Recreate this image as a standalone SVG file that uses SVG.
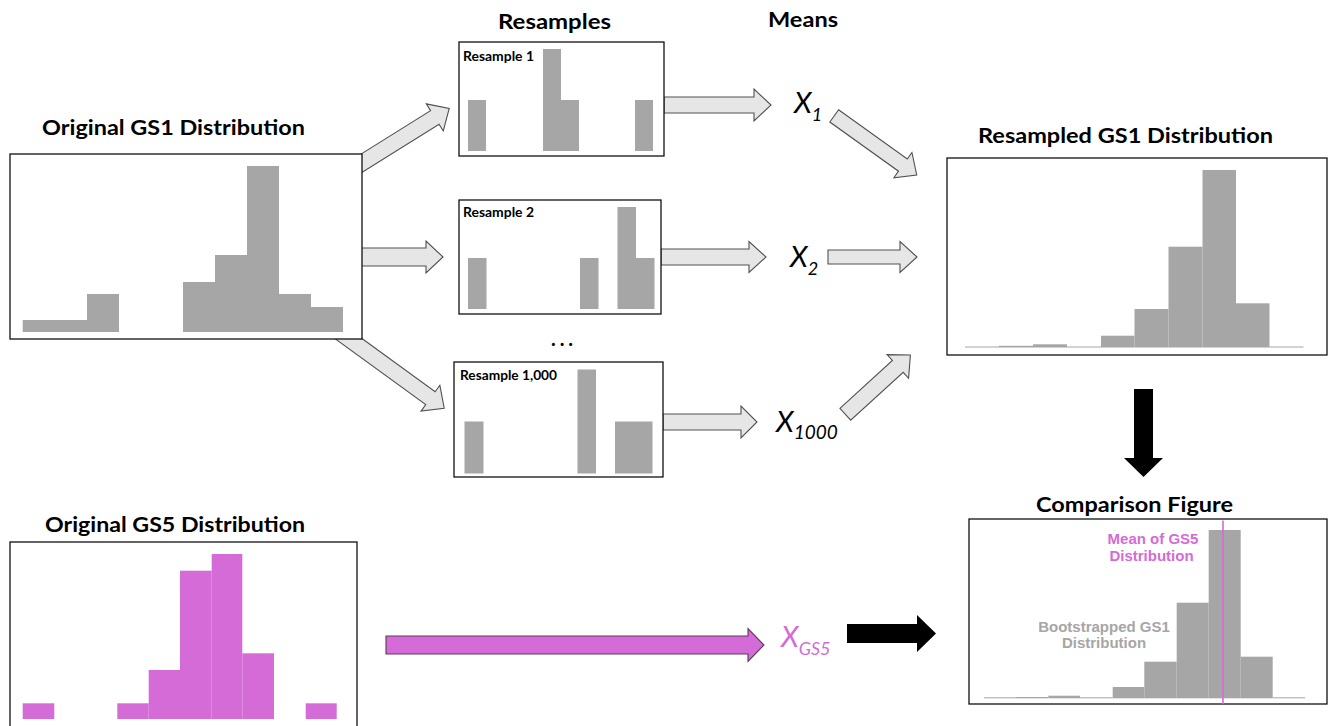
<svg xmlns="http://www.w3.org/2000/svg" width="1336" height="726" viewBox="0 0 1336 726">
<style>
.bg{fill:#ffffff}
.box{fill:#ffffff;stroke:#111;stroke-width:1.3}
.bar{fill:#a6a6a6}
.pbar{fill:#d46bd6}
.garrow{fill:#e6e6e6;stroke:#505050;stroke-width:1.1;stroke-linejoin:miter}
.parrow{fill:#d46bd6;stroke:#5a3a5a;stroke-width:1.1}
.barrow{fill:#000}
.title{font-family:Lato,"Liberation Sans",sans-serif;font-weight:bold;font-size:20px;fill:#000}
.rlabel{font-family:Lato,"Liberation Sans",sans-serif;font-weight:bold;font-size:12.5px;fill:#000}
.xl{font-family:Lato,"Open Sans",sans-serif;font-style:italic;fill:#000}
.ann{font-family:"Liberation Sans",Arial,sans-serif;font-weight:bold;font-size:15px}
</style>
<rect class="bg" x="0" y="0" width="1336" height="726"/>

<g id="connectors">
  <polygon class="garrow" transform="translate(350,170.4) rotate(-32)" points="0,-8 100,-8 100,-16 117,0 100,16 100,8 0,8"/>
  <polygon class="garrow" points="350,248 426,248 426,241 443,257 426,273 426,266 350,266"/>
  <polygon class="garrow" transform="translate(336.6,330) rotate(36)" points="0,-8 116,-8 116,-16 133,0 116,16 116,8 0,8"/>
  <polygon class="garrow" points="664,97 754,97 754,89 771,105 754,121 754,113 664,113"/>
  <polygon class="garrow" points="661,249 749,249 749,241.5 766,257 749,272.5 749,265 661,265"/>
  <polygon class="garrow" points="663,414 741,414 741,406 757,422 741,438 741,430 663,430"/>
  <polygon class="garrow" transform="translate(834.2,115.9) rotate(35.6)" points="0,-7.5 84.5,-7.5 84.5,-15.5 101.5,0 84.5,15.5 84.5,7.5 0,7.5"/>
  <polygon class="garrow" points="828,250 900,250 900,241.5 917,257 900,272.5 900,264 828,264"/>
  <polygon class="garrow" transform="translate(845.3,414.2) rotate(-42.3)" points="0,-8 71,-8 71,-16 88,0 71,16 71,8 0,8"/>
  <polygon class="parrow" points="386,636 748,636 748,628.5 764,645 748,661.5 748,654 386,654"/>
  <polygon class="barrow" points="847,624 917,624 917,615 936,633.5 917,652 917,643 847,643"/>
  <polygon class="barrow" points="1134,389 1153,389 1153,458 1163,458 1143.5,477 1124,458 1134,458"/>
</g>

<g id="original-gs1">
  <text class="title" x="42" y="135" textLength="263" lengthAdjust="spacingAndGlyphs">Original GS1 Distribution</text>
  <rect class="box" x="10" y="154" width="352" height="185"/>
  <rect class="bar" x="22.7" y="320" width="64.6" height="12"/>
  <rect class="bar" x="87" y="294" width="32" height="38"/>
  <rect class="bar" x="183" y="282" width="32" height="50"/>
  <rect class="bar" x="215" y="255" width="32" height="77"/>
  <rect class="bar" x="247" y="166" width="32" height="166"/>
  <rect class="bar" x="279" y="294" width="32" height="38"/>
  <rect class="bar" x="311" y="307" width="32" height="25"/>
</g>

<g id="resamples-title">
  <text class="title" x="498" y="29" textLength="113" lengthAdjust="spacingAndGlyphs">Resamples</text>
</g>

<g id="resample-1">
  <rect class="box" x="459" y="42" width="205" height="114"/>
  <text class="rlabel" x="463" y="61" textLength="71" lengthAdjust="spacingAndGlyphs">Resample 1</text>
  <rect class="bar" x="468" y="100" width="18" height="51"/>
  <rect class="bar" x="543" y="49" width="18" height="102"/>
  <rect class="bar" x="561" y="100" width="18" height="51"/>
  <rect class="bar" x="635" y="100" width="18" height="51"/>
</g>

<g id="resample-2">
  <rect class="box" x="459" y="200" width="202" height="114"/>
  <text class="rlabel" x="463" y="217" textLength="71" lengthAdjust="spacingAndGlyphs">Resample 2</text>
  <rect class="bar" x="468" y="258" width="18.5" height="51"/>
  <rect class="bar" x="580" y="258" width="18.5" height="51"/>
  <rect class="bar" x="617.5" y="207" width="18.5" height="102"/>
  <rect class="bar" x="636" y="258" width="18.5" height="51"/>
</g>

<g id="ellipsis">
  <text class="title" x="551" y="346" font-size="24" textLength="22" lengthAdjust="spacing">...</text>
</g>

<g id="resample-1000">
  <rect class="box" x="454" y="362" width="209" height="115"/>
  <text class="rlabel" x="460" y="380" textLength="97" lengthAdjust="spacingAndGlyphs">Resample 1,000</text>
  <rect class="bar" x="464.5" y="421.5" width="19" height="52"/>
  <rect class="bar" x="577.5" y="369.5" width="18.5" height="104"/>
  <rect class="bar" x="615" y="421.5" width="37.5" height="52"/>
</g>

<g id="means">
  <text class="title" x="768" y="27" textLength="70" lengthAdjust="spacingAndGlyphs">Means</text>
  <text class="xl" x="794" y="113" font-size="29">X<tspan font-size="18" dy="8">1</tspan></text>
  <text class="xl" x="790" y="267" font-size="29">X<tspan font-size="18" dy="8">2</tspan></text>
  <text class="xl" x="776" y="432" font-size="29">X<tspan font-size="19" dy="7">1000</tspan></text>
  <text class="xl" x="781" y="647" font-size="29" style="fill:#d46bd6">X<tspan font-size="18" dy="8">GS5</tspan></text>
</g>

<g id="resampled-gs1">
  <text class="title" x="978" y="143" textLength="295" lengthAdjust="spacingAndGlyphs">Resampled GS1 Distribution</text>
  <rect class="box" x="947" y="158" width="380" height="197"/>
  <rect class="bar" x="965" y="346.5" width="34" height="1"/>
  <rect class="bar" x="999" y="345.8" width="34" height="1.7"/>
  <rect class="bar" x="1033" y="344.3" width="34" height="3.2"/>
  <rect class="bar" x="1067" y="346.5" width="34" height="1"/>
  <rect class="bar" x="1101" y="335.7" width="33.5" height="11.8"/>
  <rect class="bar" x="1134.5" y="309" width="34" height="38.5"/>
  <rect class="bar" x="1168.5" y="246.7" width="34" height="100.8"/>
  <rect class="bar" x="1202.5" y="170" width="33.5" height="177.5"/>
  <rect class="bar" x="1236" y="303.3" width="33.5" height="44.2"/>
  <rect class="bar" x="1269.5" y="346.5" width="34" height="1"/>
</g>

<g id="comparison">
  <text class="title" x="1036" y="512" textLength="197" lengthAdjust="spacingAndGlyphs">Comparison Figure</text>
  <rect class="box" x="969" y="519" width="358" height="185"/>
  <rect class="bar" x="984" y="697.3" width="32" height="1"/>
  <rect class="bar" x="1016" y="697" width="32.3" height="1.3"/>
  <rect class="bar" x="1048.3" y="695.7" width="31.7" height="2.6"/>
  <rect class="bar" x="1080" y="697.3" width="32.7" height="1"/>
  <rect class="bar" x="1112.7" y="687" width="31.6" height="11.3"/>
  <rect class="bar" x="1144.3" y="661.7" width="32.4" height="36.6"/>
  <rect class="bar" x="1176.7" y="602.7" width="32" height="95.6"/>
  <rect class="bar" x="1208.7" y="530" width="32" height="168.3"/>
  <rect class="bar" x="1240.7" y="656.7" width="32" height="41.6"/>
  <rect class="bar" x="1272.7" y="697.3" width="32.3" height="1"/>
  <line x1="1223" y1="520.5" x2="1223" y2="704" stroke="#d46bd6" stroke-width="1.6"/>
  <text class="ann" x="1153" y="544" text-anchor="middle" fill="#d46bd6">Mean of GS5</text>
  <text class="ann" x="1151.5" y="561" text-anchor="middle" fill="#d46bd6">Distribution</text>
  <text class="ann" x="1104" y="632" text-anchor="middle" fill="#a6a6a6">Bootstrapped GS1</text>
  <text class="ann" x="1104" y="648" text-anchor="middle" fill="#a6a6a6">Distribution</text>
</g>

<g id="original-gs5">
  <text class="title" x="45" y="532" textLength="260" lengthAdjust="spacingAndGlyphs">Original GS5 Distribution</text>
  <rect class="box" x="10" y="542" width="347" height="200"/>
  <rect class="pbar" x="22.7" y="703.3" width="31.6" height="15.7"/>
  <rect class="pbar" x="117.3" y="703.3" width="31.4" height="15.7"/>
  <rect class="pbar" x="148.7" y="670" width="31.3" height="49"/>
  <rect class="pbar" x="180" y="570.7" width="31.7" height="148.3"/>
  <rect class="pbar" x="211.7" y="554" width="30.6" height="165"/>
  <rect class="pbar" x="242.3" y="653.3" width="31.7" height="65.7"/>
  <rect class="pbar" x="305.7" y="703.3" width="31" height="15.7"/>
</g>
</svg>
